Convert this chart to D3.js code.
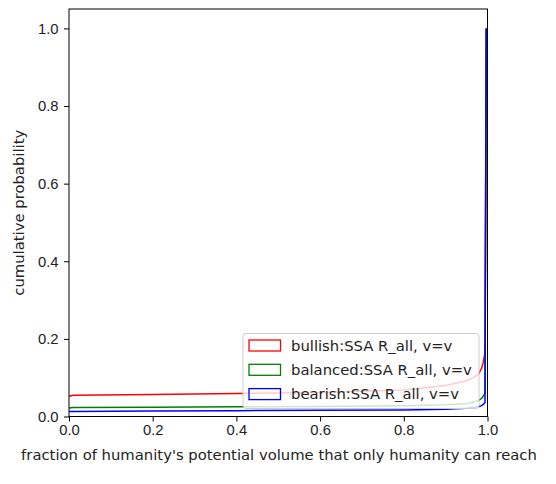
<!DOCTYPE html>
<html>

<head>
    <meta charset="UTF-8">
    <style>
        body { margin: 0; background: #fff; }
        svg { font-family: "DejaVu Sans", sans-serif; }
        .tick text { font-size: 14.8px; fill: #222; }
    </style>
    <title>cumulative probability</title>
</head>

<body>
    <svg></svg>
    <script src="https://d3js.org/d3.v7.min.js"></script>

    <script>
        let width = 556, height = 484;

        // Data: fraction reached (x) and cumulative probability per scenario
        const xVals = [0, 0.01, 0.2, 0.4, 0.6, 0.8, 0.9, 0.95, 0.97, 0.98, 0.986, 0.99, 0.994, 0.997];
        const bullish = [0.052, 0.055, 0.057, 0.059, 0.062, 0.068, 0.080, 0.092, 0.102, 0.112, 0.125, 0.14, 0.165, 1.0];
        const balanced = [0.022, 0.023, 0.024, 0.025, 0.026, 0.028, 0.030, 0.033, 0.038, 0.042, 0.047, 0.052, 0.060, 1.0];
        const bearish = [0.013, 0.013, 0.014, 0.015, 0.016, 0.017, 0.019, 0.021, 0.024, 0.026, 0.028, 0.031, 0.036, 1.0];
        const seriesNames = ["bullish:SSA R_all, v=v", "balanced:SSA R_all, v=v", "bearish:SSA R_all, v=v"];
        const seriesColors = ["red", "green", "blue"];
        const xTicks = [0, 0.2, 0.4, 0.6, 0.8, 1.0];
        const yTicks = [0, 0.2, 0.4, 0.6, 0.8, 1.0];

        let margin = { left: 69, right: 556 - 487.5, top: 9, bottom: 484 - 416.5 };

        let svg = d3.select("svg")
            .attr("width", width)
            .attr("height", height);

        let x = d3.scaleLinear().domain([0, 1]).range([margin.left, width - margin.right]);
        let y = d3.scaleLinear().domain([0, 1.05]).range([height - margin.bottom, margin.top]);

        // lines
        let line = d3.line()
            .x((d, i) => x(xVals[i]))
            .y(d => y(d));

        svg.append("g")
            .selectAll("path")
            .data([bullish, balanced, bearish])
            .enter()
            .append("path")
            .attr("d", line)
            .attr("fill", "none")
            .attr("stroke", (d, i) => seriesColors[i])
            .attr("stroke-width", 1.5);

        // axes
        let xAxis = svg.append("g")
            .attr("transform", "translate(0," + y(0) + ")")
            .call(d3.axisBottom(x).tickValues(xTicks).tickFormat(d3.format(".1f")).tickSize(5).tickSizeOuter(0));
        let yAxis = svg.append("g")
            .attr("transform", "translate(" + x(0) + ",0)")
            .call(d3.axisLeft(y).tickValues(yTicks).tickFormat(d3.format(".1f")).tickSize(5).tickSizeOuter(0));
        xAxis.select(".domain").remove();
        yAxis.select(".domain").remove();
        xAxis.selectAll(".tick text").attr("y", 7).attr("dy", "0.8em");
        yAxis.selectAll(".tick text").attr("x", -10.5);

        // frame
        svg.append("rect")
            .attr("x", x(0))
            .attr("y", y(1.05))
            .attr("width", x(1) - x(0))
            .attr("height", y(0) - y(1.05))
            .attr("fill", "none")
            .attr("stroke", "#000")
            .attr("stroke-width", 1);

        // labels
        svg.append("text")
            .attr("x", 279)
            .attr("y", 460)
            .attr("text-anchor", "middle")
            .style("font-size", "14.8px")
            .attr("fill", "#222")
            .text("fraction of humanity's potential volume that only humanity can reach");

        svg.append("text")
            .attr("transform", "translate(23.5," + ((y(0) + y(1.05)) / 2) + ") rotate(-90)")
            .attr("text-anchor", "middle")
            .style("font-size", "14.8px")
            .attr("fill", "#222")
            .text("cumulative probability");

        // legend
        let legend = svg.append("g").attr("transform", "translate(243,333.5)");
        legend.append("rect")
            .attr("width", 236)
            .attr("height", 75)
            .attr("rx", 3)
            .attr("fill", "white")
            .attr("fill-opacity", 0.8)
            .attr("stroke", "#ccc");

        let items = legend.selectAll(".item")
            .data(seriesNames)
            .enter()
            .append("g")
            .attr("transform", (d, i) => "translate(0," + (12 + i * 24.3) + ")");
        items.append("rect")
            .attr("x", 6)
            .attr("y", -5.5)
            .attr("width", 31.5)
            .attr("height", 11)
            .attr("fill", "none")
            .attr("stroke", (d, i) => seriesColors[i])
            .attr("stroke-width", 1.3);
        items.append("text")
            .attr("x", 48)
            .attr("dy", "0.35em")
            .style("font-size", "14.8px")
            .attr("fill", "#222")
            .text(d => d);
    </script>
</body>

</html>
